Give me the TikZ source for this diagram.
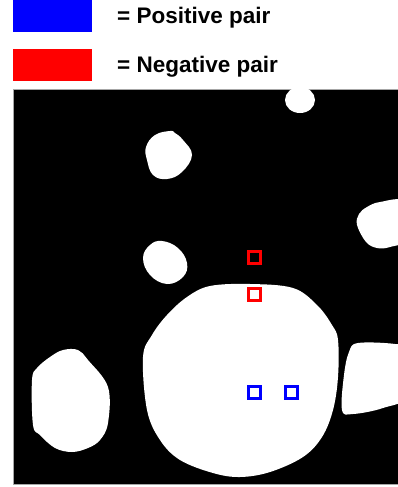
\documentclass[tikz,border=0pt]{standalone}
\usepackage{fontspec}
\setmainfont{Liberation Sans}
\begin{document}
\begin{tikzpicture}[x=1pt,y=-1pt,
  legendbox/.style={draw=none,inner sep=0pt,minimum width=79pt,minimum height=32pt,anchor=north west},
  legendtext/.style={anchor=base west,inner sep=0pt,font=\fontsize{22.5}{27}\selectfont\bfseries},
  pairbox/.style={draw,line width=3pt,inner sep=0pt,minimum size=12pt,fill=none},
  blob/.style={fill=white,draw=none}]
\useasboundingbox (0,0) rectangle (398,487);
% legend
\node[legendbox,fill=blue] (posbox) at (13,0) {};
\node[legendbox,fill=red] (negbox) at (13,49) {};
\node[legendtext] (postext) at (117,23.5) {= Positive pair};
\node[legendtext] (negtext) at (117,72.7) {= Negative pair};
% image
\fill[black] (13,90) rectangle (398,484);
\draw[gray!70,line width=0.8pt] (13,89.6) -- (398,89.6);
\draw[gray!70,line width=0.8pt] (13,484.4) -- (398,484.4);
\draw[gray!70,line width=0.8pt] (13.4,90) -- (13.4,484);
\begin{scope}
\clip (0,80) rectangle (398,484);
% top blob
\fill[blob] (300,100) ellipse (15 and 13);
% upper small blob
\fill[blob] plot[smooth cycle,tension=0.7] coordinates {(170,131) (155,135) (146,147) (147,160) (153,175) (167,179) (182,172) (192,155) (183,140) (175,133)};
% lower small blob
\fill[blob] plot[smooth cycle,tension=0.7] coordinates {(162,241) (150,245) (143,258) (150,275) (167,284) (183,277) (187,263) (178,248)};
% big blob
\fill[blob] plot[smooth cycle,tension=0.6] coordinates {(210,286) (250,284) (293,288) (317,305) (332,325) (338,340) (338,377) (333,410) (322,437) (303,457) (270,472) (240,477) (213,473) (180,460) (160,440) (147,410) (143,357) (152,335) (167,315) (187,297)};
% bottom-left blob
\fill[blob] plot[smooth cycle,tension=0.6] coordinates {(63,350) (78,350) (88,360) (108,387) (108,423) (100,440) (88,448) (72,452) (55,448) (40,435) (33,425) (32,380) (37,368) (50,357)};
% right upper blob
\fill[blob] plot[smooth cycle,tension=0.6] coordinates {(367,207) (380,202) (405,202) (408,238) (390,247) (377,248) (366,242) (357,225) (359,214)};
% right middle blob
\fill[blob] plot[smooth cycle,tension=0.6] coordinates {(358,343) (395,344) (408,350) (408,395) (383,408) (353,414) (342,410) (344,375) (349,352)};
\end{scope}
% pairs
\node[pairbox,draw=red] (neg1) at (254.5,257.5) {};
\node[pairbox,draw=red] (neg2) at (254.5,294.5) {};
\node[pairbox,draw=blue] (pos1) at (254.5,392) {};
\node[pairbox,draw=blue] (pos2) at (291,392) {};
\end{tikzpicture}
\end{document}
